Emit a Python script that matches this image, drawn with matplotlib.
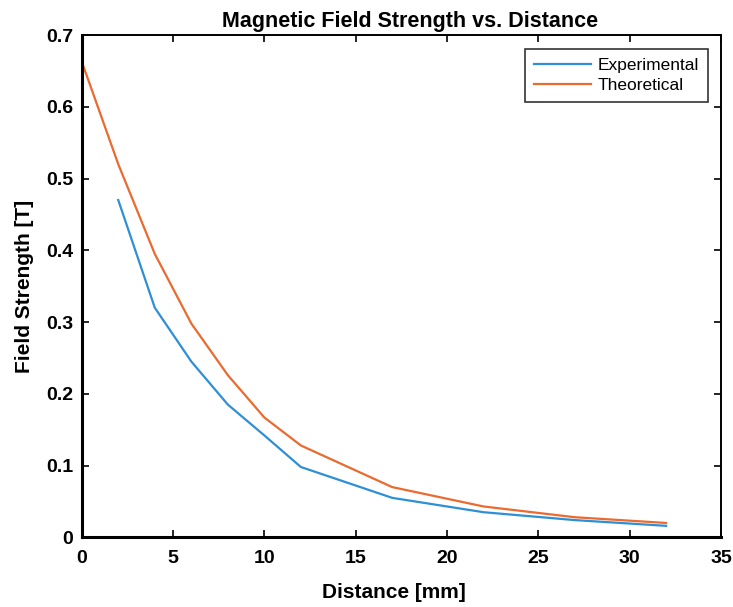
import numpy as np
import matplotlib.pyplot as plt

plt.rcParams['font.family'] = ['Liberation Sans', 'DejaVu Sans']

# measured field along the axis (starts at 2 mm)
dist_exp = [2, 4, 6, 8, 10, 12, 17, 22, 27, 32]
field_exp = [0.47, 0.32, 0.245, 0.185, 0.142, 0.098, 0.055, 0.035, 0.024, 0.016]

# calculated field
dist_th = [0, 2, 4, 6, 8, 10, 12, 17, 22, 27, 32]
field_th = [0.663, 0.52, 0.395, 0.298, 0.226, 0.167, 0.128, 0.07, 0.043, 0.028, 0.02]

xticks = np.arange(0, 36, 5)
yticks = np.arange(0, 0.71, 0.1)
ytick_labels = ['0', '0.1', '0.2', '0.3', '0.4', '0.5', '0.6', '0.7']

fig = plt.figure(figsize=(7.33, 6.07), dpi=100)
ax = fig.add_axes([0.1115, 0.1148, 0.872, 0.8275])

ax.plot(dist_exp, field_exp, color='#2e8fd6', linewidth=1.6, label='Experimental')
ax.plot(dist_th, field_th, color='#ea6a2f', linewidth=1.6, label='Theoretical')

ax.set_xlim(0, 35)
ax.set_ylim(0, 0.7)
ax.set_xticks(xticks)
ax.set_yticks(yticks)
ax.set_yticklabels(ytick_labels)
ax.tick_params(direction='in', length=5, width=1.2, top=True, right=True, labelsize=14)
ax.tick_params(axis='x', pad=9)
ax.tick_params(axis='y', pad=6)
for lab in ax.get_xticklabels() + ax.get_yticklabels():
    lab.set_fontweight('bold')

for side in ['left', 'bottom']:
    ax.spines[side].set_linewidth(2.2)
for side in ['top', 'right']:
    ax.spines[side].set_linewidth(1.4)

ax.set_title('Magnetic Field Strength vs. Distance', fontsize=15.5, fontweight='bold',
             pad=6, x=0.513)
ax.set_xlabel('Distance [mm]', fontsize=15, fontweight='bold', labelpad=11)
ax.xaxis.set_label_coords(0.488, -0.09)
ax.set_ylabel('Field Strength [T]', fontsize=15, fontweight='bold', labelpad=9)

leg = ax.legend(loc='upper right', bbox_to_anchor=(0.98, 0.972), borderaxespad=0,
                fontsize=12.5, fancybox=False, edgecolor='#333333', framealpha=1,
                handlelength=3.3, borderpad=0.5, labelspacing=0.3, handletextpad=0.4)
leg.get_frame().set_linewidth(1.2)

fig.savefig('out.png', dpi=100)
